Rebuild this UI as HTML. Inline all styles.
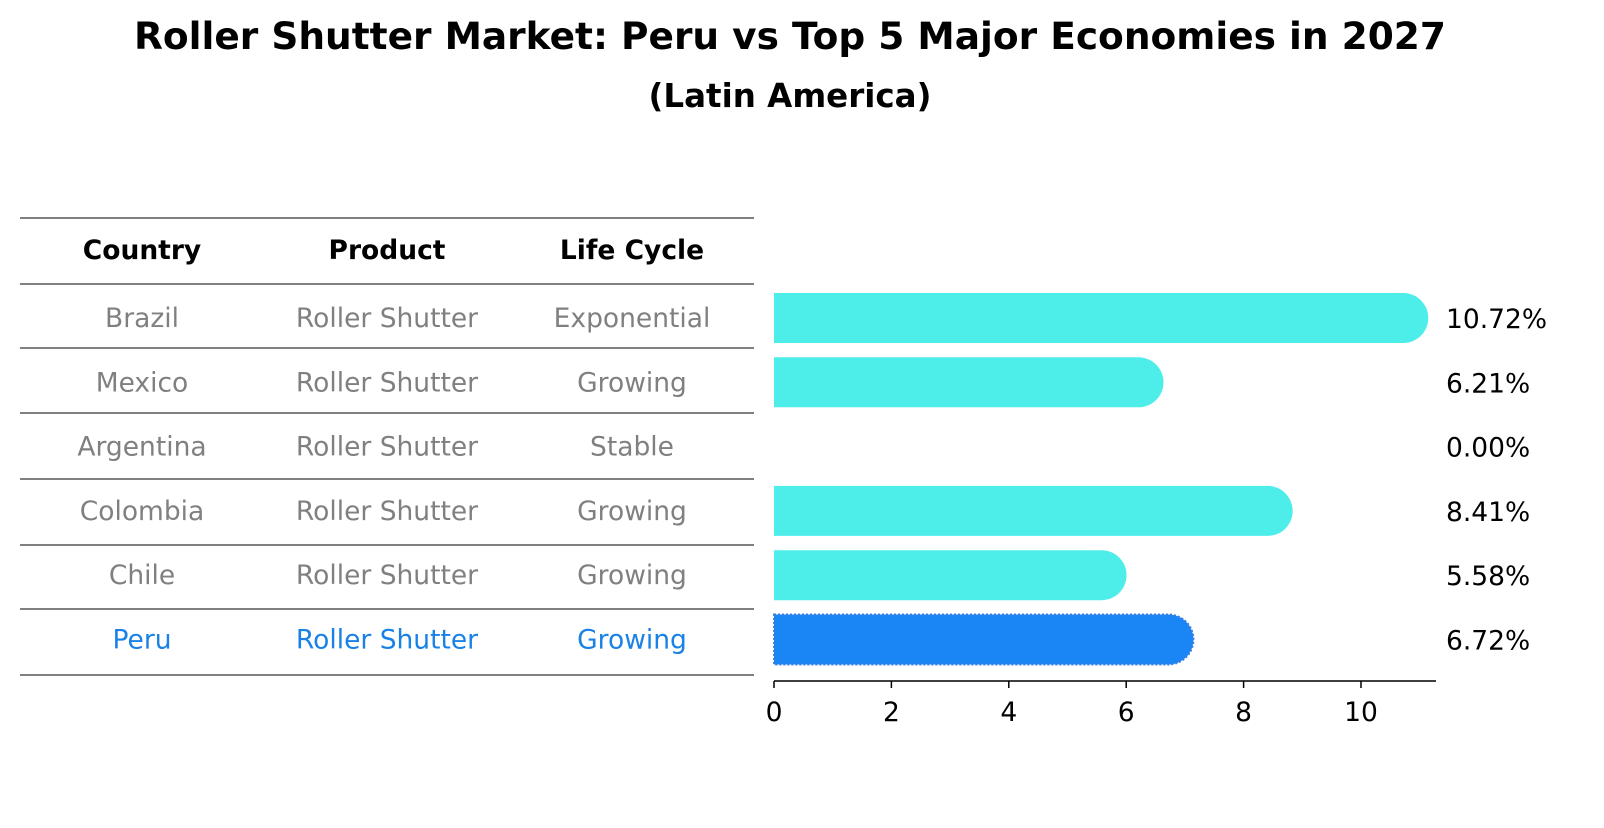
<!DOCTYPE html>
<html><head><meta charset="utf-8"><style>
body{margin:0;background:#fff;width:1604px;height:823px;overflow:hidden;font-family:"Liberation Sans","DejaVu Sans",sans-serif}
</style></head><body>
<svg width="1604" height="823" xmlns="http://www.w3.org/2000/svg" font-family="DejaVu Sans, Liberation Sans, sans-serif">
<text x="790" y="49" text-anchor="middle" font-size="37.5" font-weight="bold">Roller Shutter Market: Peru vs Top 5 Major Economies in 2027</text>
<text x="790" y="107" text-anchor="middle" font-size="32.5" font-weight="bold">(Latin America)</text>
<g id="table"></g>
<g id="bars"></g>
<g id="axis"></g>
</svg>
<script>
const countries=["Brazil","Mexico","Argentina","Colombia","Chile","Peru"];
const products=["Roller Shutter","Roller Shutter","Roller Shutter","Roller Shutter","Roller Shutter","Roller Shutter"];
const lifecycles=["Exponential","Growing","Stable","Growing","Growing","Growing"];
const values=[10.72,6.21,0.00,8.41,5.58,6.72];
const ticks=[0,2,4,6,8,10];
const NS="http://www.w3.org/2000/svg";
const x0=774, pxPerUnit=58.7;
const xs=v=>x0+v*pxPerUnit;
const rowY=i=>318+i*64.3;
function mk(tag,attrs,parent,text){const e=document.createElementNS(NS,tag);for(const k in attrs)e.setAttribute(k,attrs[k]);if(text!==undefined)e.textContent=text;parent.appendChild(e);return e;}
const tbl=document.getElementById('table'), bars=document.getElementById('bars'), ax=document.getElementById('axis');
const lineYs=[218,284,348,413,479,545,609,675];
lineYs.forEach(y=>{const l=mk('line',{x1:20,x2:754,y1:y,y2:y,stroke:'#000','stroke-width':1},tbl);

});
const colX=[142,387,632];
["Country","Product","Life Cycle"].forEach((h,j)=>{const t=mk('text',{x:colX[j],y:259,'text-anchor':'middle','font-size':26.5,'font-weight':'bold'},tbl,h);

});
countries.forEach((c,i)=>{
  const col=c==="Peru"?"#1a82e6":"#808080";
  [c,products[i],lifecycles[i]].forEach((v,j)=>{const t=mk('text',{x:colX[j],y:rowY(i)+9,'text-anchor':'middle','font-size':26.5,fill:col},tbl,v);
  
  });
  const h=50, r=25, y=rowY(i)-h/2;
  const xe=xs(values[i]);
  if(values[i]>0){
    const p=mk('path',{d:`M${x0},${y} H${xe} A${r},${r} 0 0 1 ${xe},${y+h} H${x0} Z`,fill:c==="Peru"?"#1a86f5":"#4deeea"},bars);
    if(c==="Peru"){p.setAttribute('stroke','#3a7ee0');p.setAttribute('stroke-dasharray','2 2');p.setAttribute('stroke-width','2');}
    
    
  }
  const t=mk('text',{x:1446,y:rowY(i)+10,'font-size':26.5},bars,values[i].toFixed(2)+'%');
  
  
});
const axl=mk('line',{x1:x0,x2:1436,y1:681,y2:681,stroke:'#000','stroke-width':1.5},ax);


ticks.forEach(v=>{const tk=mk('line',{x1:xs(v),x2:xs(v),y1:681,y2:688,stroke:'#000','stroke-width':1.5},ax);


const t=mk('text',{x:xs(v),y:721,'text-anchor':'middle','font-size':26.5},ax,String(v));

});
</script>
</body></html>
